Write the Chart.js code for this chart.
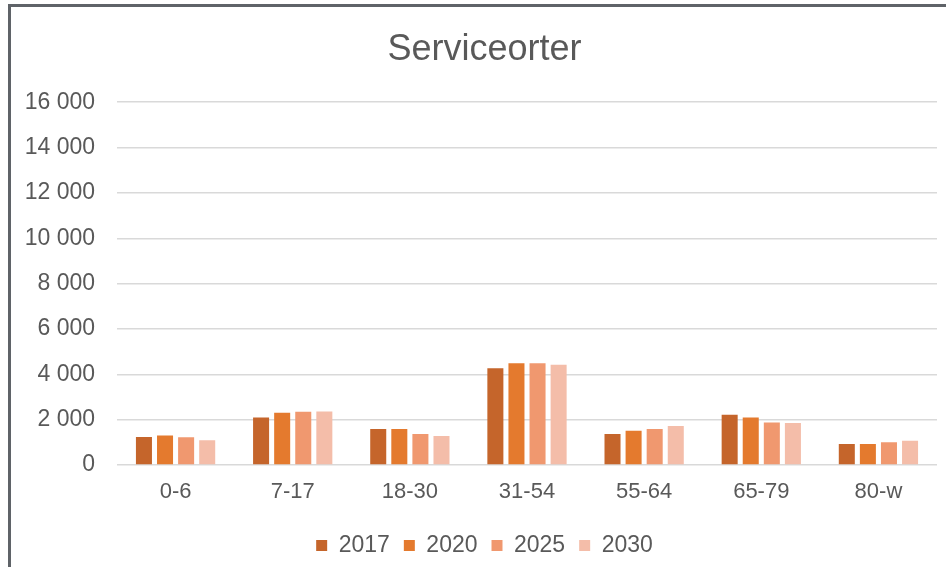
<!DOCTYPE html>
<html>
<head>
<meta charset="utf-8">
<script src="https://cdn.jsdelivr.net/npm/chart.js@4"></script>
<style>
  html, body { margin: 0; padding: 0; background: #fff; }
  #frame {
    position: absolute; left: 8px; top: 4px; right: 0; bottom: 0;
    border-left: 3px solid #5f6368; border-top: 3px solid #5f6368;
  }
  #myChart { position: absolute; left: 0; top: 0; }
</style>
</head>
<body>
<div id="frame"></div>
<canvas id="myChart" width="946" height="567"></canvas>
<script>
const ageGroups = ['0-6', '7-17', '18-30', '31-54', '55-64', '65-79', '80-w'];
const years = ['2017', '2020', '2025', '2030'];

const values2017 = [1240, 2090, 1590, 4270, 1370, 2220, 930];
const values2020 = [1300, 2300, 1590, 4490, 1510, 2090, 930];
const values2025 = [1220, 2350, 1370, 4490, 1590, 1870, 1000];
const values2030 = [1090, 2360, 1280, 4420, 1720, 1850, 1070];

const yTicks = [0, 2000, 4000, 6000, 8000, 10000, 12000, 14000, 16000];

const colors = ['#c5652b', '#e47a2e', '#f0986f', '#f4bda9'];
const series = [values2017, values2020, values2025, values2030];

const FONT = 'Liberation Sans, Arial, sans-serif';
const textColor = '#595959';

// "16 000" style thousands separator
const fmt = v => String(v).replace(/\B(?=(\d{3})+(?!\d))/g, ' ');

// y labels hang out to the left of the (narrow) axis box, so don't clip them
const noLabelClip = {
  id: 'noLabelClip',
  beforeDraw(chart) {
    chart.scales.y._computeLabelArea = () => undefined;
  }
};

const ctx = document.getElementById('myChart');

new Chart(ctx, {
  type: 'bar',
  data: {
    labels: ageGroups,
    datasets: years.map((y, i) => ({
      label: y,
      data: series[i],
      backgroundColor: colors[i],
      borderWidth: 0,
      barPercentage: 0.76,
      categoryPercentage: 0.72
    }))
  },
  plugins: [noLabelClip],
  options: {
    responsive: false,
    animation: false,
    layout: { padding: { left: 32, right: 9, top: 10, bottom: 0 } },
    plugins: {
      title: {
        display: true,
        text: 'Serviceorter',
        color: textColor,
        font: { family: FONT, size: 36, weight: 'normal' },
        padding: { top: 18, bottom: 31 }
      },
      legend: {
        position: 'bottom',
        labels: {
          color: textColor,
          font: { family: FONT, size: 23 },
          boxWidth: 11,
          boxHeight: 11,
          padding: 14
        }
      },
      tooltip: { enabled: false }
    },
    scales: {
      x: {
        grid: { display: false },
        border: { display: false },
        ticks: {
          color: textColor,
          font: { family: FONT, size: 22 },
          padding: 6
        },
        afterFit: scale => { scale.height = 55; }
      },
      y: {
        min: 0,
        max: 16000,
        afterBuildTicks: scale => { scale.ticks = yTicks.map(v => ({ value: v })); },
        grid: { color: '#d9d9d9', lineWidth: 1.5, drawTicks: false },
        border: { display: false },
        ticks: {
          color: textColor,
          font: { family: FONT, size: 23 },
          padding: 22,
          callback: v => fmt(v)
        },
        afterFit: scale => { scale.width = 85; }
      }
    }
  }
});
</script>
</body>
</html>
